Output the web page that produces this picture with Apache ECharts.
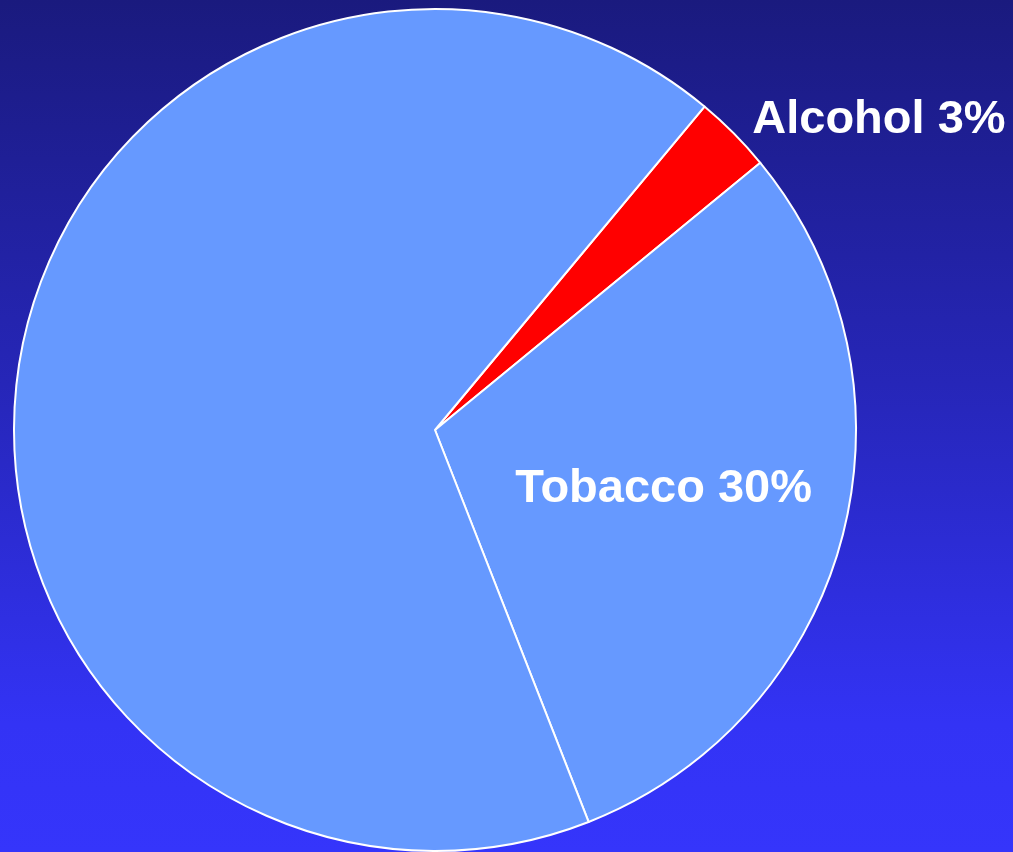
<!DOCTYPE html>
<html>
<head>
<meta charset="utf-8">
<script src="https://cdn.jsdelivr.net/npm/echarts@6/dist/echarts.min.js"></script>
<style>
html,body{margin:0;padding:0;width:1013px;height:852px;overflow:hidden;}
#c{width:1013px;height:852px;background:linear-gradient(to bottom,#1a1a7e 0%,#2626b8 45%,#3333f5 85%,#3535fb 100%);}
</style>
</head>
<body>
<div id="c"></div>
<script>
const categories = ['Alcohol', 'Tobacco', 'Other'];
const values = [3, 30, 67];
const showLabel = [true, true, false];
const labelPos = ['outside', 'inside', 'inside'];
const colors = ['#ff0000', '#6699ff', '#6699ff'];
const labelShift = [[0, -5], [22, 5], [0, 0]];

const chart = echarts.init(document.getElementById('c'), null, {renderer: 'canvas'});
chart.setOption({
  backgroundColor: 'transparent',
  animation: false,
  series: [{
    type: 'pie',
    center: [435, 430],
    radius: 421,
    startAngle: 50.2,
    clockwise: true,
    avoidLabelOverlap: false,
    itemStyle: {borderColor: '#ffffff', borderWidth: 2},
    label: {
      color: '#ffffff',
      fontFamily: 'Liberation Sans, Arial, sans-serif',
      fontWeight: 'bold',
      fontSize: 47,
      formatter: p => p.name + ' ' + p.value + '%'
    },
    labelLine: {show: false, length: 12, length2: 5},
    labelLayout: p => ({dx: labelShift[p.dataIndex][0], dy: labelShift[p.dataIndex][1]}),
    data: categories.map((n, i) => ({
      name: n,
      value: values[i],
      itemStyle: {color: colors[i]},
      label: {show: showLabel[i], position: labelPos[i]}
    }))
  }]
});
</script>
</body>
</html>
